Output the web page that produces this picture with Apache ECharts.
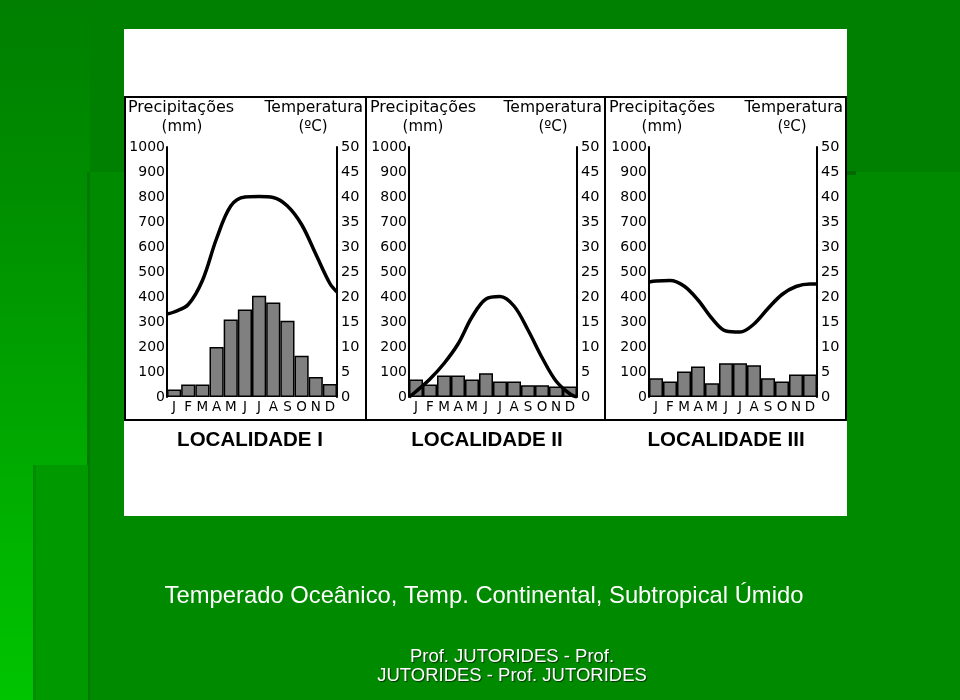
<!DOCTYPE html>
<html>
<head>
<meta charset="utf-8">
<script src="https://cdn.jsdelivr.net/npm/echarts@6/dist/echarts.min.js"></script>
<style>html,body{margin:0;padding:0;background:#008000;}#c{width:960px;height:700px;}</style>
</head>
<body>
<div id="c"></div>
<script>
// ---- data ----
const months = ['J','F','M','A','M','J','J','A','S','O','N','D'];
const precipI   = [30, 50, 50, 200, 310, 350, 405, 378, 305, 165, 80, 52];
const precipII  = [70, 50, 86, 86, 70, 95, 62, 62, 47, 47, 42, 42];
const precipIII = [75, 62, 102, 122, 55, 135, 135, 127, 75, 62, 90, 90];
// temperature curve read at axis edges and at month centres
const tempPos  = [0, 0.5, 1.5, 2.5, 3.5, 4.5, 5.5, 6.5, 7.5, 8.5, 9.5, 10.5, 11.5, 12];
const tempI    = [16.6, 17.0, 18.5, 23.3, 31.7, 38.2, 40.0, 40.1, 39.9, 38.2, 34.5, 28.6, 22.7, 21.0];
const tempII   = [0, 1.1, 3.6, 6.7, 10.6, 16.0, 19.6, 20.1, 18.2, 13.4, 7.9, 3.2, 0.6, 0];
const tempIII  = [23.0, 23.2, 23.3, 22.2, 19.4, 15.7, 13.2, 13.0, 14.6, 17.7, 20.5, 22.1, 22.6, 22.6];
const panelTitles = ['LOCALIDADE I', 'LOCALIDADE II', 'LOCALIDADE III'];
const caption = 'Temperado Oceânico, Temp. Continental, Subtropical Úmido';
const footer1 = 'Prof. JUTORIDES - Prof.';
const footer2 = 'JUTORIDES - Prof. JUTORIDES';

const precip = [precipI, precipII, precipIII];
const temps = [tempI, tempII, tempIII];

// ---- layout ----
const gridLeft = [167, 409, 649];
const gridWidth = [170, 168, 168];
const panelX = [124, 366, 605];
const panelW = [242, 239, 241];
const FONT = 'DejaVu Sans';

const grids = [], xAxes = [], yAxes = [], series = [];
for (let i = 0; i < 3; i++) {
  grids.push({left: gridLeft[i], width: gridWidth[i], top: 147, height: 250, containLabel: false});
  xAxes.push({type: 'category', gridIndex: i, data: months, boundaryGap: true,
    axisLine: {show: false}, axisTick: {show: false}, splitLine: {show: false},
    axisLabel: {color: '#000', fontSize: 13.5, fontFamily: FONT, margin: 3, interval: 0}});
  xAxes.push({type: 'value', gridIndex: i, min: 0, max: 12, show: false});
  yAxes.push({type: 'value', gridIndex: i, min: 0, max: 1000, interval: 100, position: 'left',
    axisLine: {show: true, lineStyle: {color: '#000', width: 2}}, axisTick: {show: false},
    splitLine: {show: false},
    axisLabel: {color: '#000', fontSize: 14, fontFamily: FONT, margin: 2, formatter: v => String(v)}});
  yAxes.push({type: 'value', gridIndex: i, min: 0, max: 50, interval: 5, position: 'right',
    axisLine: {show: true, lineStyle: {color: '#000', width: 2}}, axisTick: {show: false},
    splitLine: {show: false},
    axisLabel: {color: '#000', fontSize: 14.5, fontFamily: FONT, margin: 4, formatter: v => String(v)}});
  series.push({type: 'bar', xAxisIndex: 2*i, yAxisIndex: 2*i, data: precip[i],
    barCategoryGap: '0%', itemStyle: {color: '#808080', borderColor: '#000', borderWidth: 1.5},
    silent: true, z: 2});
  series.push({type: 'line', xAxisIndex: 2*i+1, yAxisIndex: 2*i+1,
    data: tempPos.map((p, k) => [p, temps[i][k]]), smooth: 0.35,
    showSymbol: false, symbol: 'none', lineStyle: {color: '#000', width: 3.5}, silent: true, z: 5});
}

const graphic = [
  // background decorations
  {type: 'rect', shape: {x: 0, y: 0, width: 90, height: 700},
    style: {fill: {type: 'linear', x: 0, y: 0, x2: 0, y2: 1, colorStops: [{offset: 0, color: '#007f00'}, {offset: 0.25, color: '#008c00'}, {offset: 1, color: '#00c400'}]}}, z: -20},
  {type: 'rect', shape: {x: 88, y: 172, width: 872, height: 528}, style: {fill: '#008a00'}, z: -19},
  {type: 'rect', shape: {x: 87, y: 172, width: 3, height: 528}, style: {fill: '#007a00'}, z: -18},
  {type: 'rect', shape: {x: 35, y: 465, width: 53, height: 235}, style: {fill: '#009a00'}, z: -18},
  {type: 'rect', shape: {x: 33, y: 465, width: 3, height: 235}, style: {fill: '#008c00'}, z: -17},
  {type: 'rect', shape: {x: 846, y: 171, width: 10, height: 4}, style: {fill: '#006a00'}, z: -17},
  // white card
  {type: 'rect', shape: {x: 124, y: 29, width: 723, height: 487}, style: {fill: '#ffffff'}, z: -10},
  // panel frame
  {type: 'rect', shape: {x: 125, y: 97, width: 721, height: 323}, style: {fill: 'none', stroke: '#000', lineWidth: 2}, z: 10},
  {type: 'line', shape: {x1: 366, y1: 97, x2: 366, y2: 420}, style: {stroke: '#000', lineWidth: 2}, z: 10},
  {type: 'line', shape: {x1: 605, y1: 97, x2: 605, y2: 420}, style: {stroke: '#000', lineWidth: 2}, z: 10},
  // caption and footer
  {type: 'text', x: 484, y: 596, style: {text: caption, fill: '#ffffff', font: '23.8px "Liberation Sans"', textAlign: 'center', textVerticalAlign: 'middle'}, z: 10},
  {type: 'text', x: 512, y: 657, style: {text: footer1, fill: '#ffffff', font: '18.5px "Liberation Sans"', textAlign: 'center', textVerticalAlign: 'middle', textShadowColor: '#003300', textShadowOffsetX: 1, textShadowOffsetY: 1, textShadowBlur: 1}, z: 10},
  {type: 'text', x: 512, y: 676, style: {text: footer2, fill: '#ffffff', font: '18.5px "Liberation Sans"', textAlign: 'center', textVerticalAlign: 'middle', textShadowColor: '#003300', textShadowOffsetX: 1, textShadowOffsetY: 1, textShadowBlur: 1}, z: 10}
];
const titleCenters = [250, 487, 726];
const mmCenters = [182, 423, 662];
const degCenters = [313, 553, 792];
for (let i = 0; i < 3; i++) {
  const x0 = panelX[i];
  graphic.push({type: 'text', x: x0 + 4, y: 108, style: {text: 'Precipitações', fill: '#000', font: '16px "' + FONT + '"', textAlign: 'left', textVerticalAlign: 'middle'}, z: 10});
  graphic.push({type: 'text', x: mmCenters[i], y: 127, style: {text: '(mm)', fill: '#000', font: '15px "' + FONT + '"', textAlign: 'center', textVerticalAlign: 'middle'}, z: 10});
  graphic.push({type: 'text', x: x0 + panelW[i] - 3, y: 108, style: {text: 'Temperatura', fill: '#000', font: '15.5px "' + FONT + '"', textAlign: 'right', textVerticalAlign: 'middle'}, z: 10});
  graphic.push({type: 'text', x: degCenters[i], y: 127, style: {text: '(ºC)', fill: '#000', font: '15px "' + FONT + '"', textAlign: 'center', textVerticalAlign: 'middle'}, z: 10});
  graphic.push({type: 'text', x: titleCenters[i], y: 440, style: {text: panelTitles[i], fill: '#000', font: 'bold 20.5px "Liberation Sans"', textAlign: 'center', textVerticalAlign: 'middle'}, z: 10});
}

const chart = echarts.init(document.getElementById('c'), null, {renderer: 'canvas'});
chart.setOption({
  backgroundColor: '#008000',
  animation: false,
  grid: grids,
  xAxis: xAxes,
  yAxis: yAxes,
  series: series,
  graphic: graphic
});
</script>
</body>
</html>
